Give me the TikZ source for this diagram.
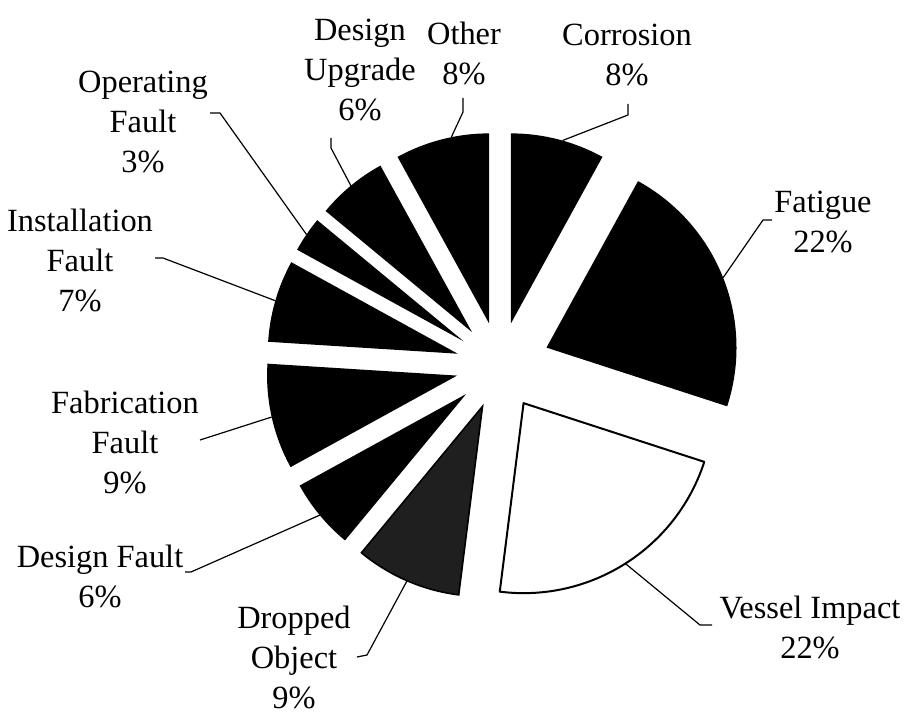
\documentclass[tikz,border=0pt]{standalone}
\usepackage{fontspec}
\setmainfont{Liberation Serif}
\tikzset{
    wedge/.style =  {fill=black,
                    draw=none},
    hollow/.style = {fill=white,
                    draw=black,
                    line width=1pt,
                    line join=round},
    shaded/.style = {fill=black!88,
                    draw=black,
                    line width=0.8pt},
    lbl/.style =    {align=center,
                    inner sep=0pt,
                    text=black,
                    font=\fontsize{16.2}{20}\selectfont},
    leader/.style = {draw=black,
                    line width=0.6pt}}

\begin{document}
\begin{tikzpicture}[x=0.5pt,y=0.5pt]
    \useasboundingbox (0,0) rectangle (906,713);
    \coordinate (C) at (500,347);
    % slices, clockwise from the top
    \path[wedge]  (C) ++(75.6:44)   -- ++(61.2:190)   arc[start angle=61.2,   end angle=90,     radius=190] -- cycle;
    \path[wedge]  (C) ++(21.6:50)   -- ++(-18:190)    arc[start angle=-18,    end angle=61.2,   radius=190] -- cycle;
    \path[hollow] (C) ++(-57.6:44)  -- ++(-97.2:190)  arc[start angle=-97.2,  end angle=-18,    radius=190] -- cycle;
    \path[shaded] (C) ++(-113.4:44) -- ++(-129.6:190) arc[start angle=-129.6, end angle=-97.2,  radius=190] -- cycle;
    \path[wedge]  (C) ++(-140.4:44) -- ++(-151.2:190) arc[start angle=-151.2, end angle=-129.6, radius=190] -- cycle;
    \path[wedge]  (C) ++(192.6:44)  -- ++(176.4:190)  arc[start angle=176.4,  end angle=208.8,  radius=190] -- cycle;
    \path[wedge]  (C) ++(163.8:44)  -- ++(151.2:190)  arc[start angle=151.2,  end angle=176.4,  radius=190] -- cycle;
    \path[wedge]  (C) ++(145.8:44)  -- ++(140.4:190)  arc[start angle=140.4,  end angle=151.2,  radius=190] -- cycle;
    \path[wedge]  (C) ++(129.6:44)  -- ++(118.8:190)  arc[start angle=118.8,  end angle=140.4,  radius=190] -- cycle;
    \path[wedge]  (C) ++(104.4:44)  -- ++(90:190)     arc[start angle=90,     end angle=118.8,  radius=190] -- cycle;
    % labels
    \node[lbl] (corrosion) at (627,658) {Corrosion\\8\%};
    \node[lbl] (fatigue)   at (823,491) {Fatigue\\22\%};
    \node[lbl] (vessel)    at (810,86)  {Vessel Impact\\22\%};
    \node[lbl] (dropped)   at (294,56)  {Dropped\\Object\\9\%};
    \node[lbl] (dfault)    at (100,137) {Design Fault\\6\%};
    \node[lbl] (fabric)    at (125,271) {Fabrication\\Fault\\9\%};
    \node[lbl] (install)   at (80,453)  {Installation\\Fault\\7\%};
    \node[lbl] (operate)   at (143,591) {Operating\\Fault\\3\%};
    \node[lbl] (upgrade)   at (360,643) {Design\\Upgrade\\6\%};
    \node[lbl] (other)     at (464,660) {Other\\8\%};
    % leader lines
    \path (C) ++(74.5:234)   coordinate (corrosion-c)
          (C) ++(21.6:240)   coordinate (fatigue-c)
          (C) ++(-57.6:234)  coordinate (vessel-c)
          (C) ++(-113.4:234) coordinate (dropped-c)
          (C) ++(-140.4:234) coordinate (dfault-c)
          (C) ++(192.6:234)  coordinate (fabric-c)
          (C) ++(163.8:234)  coordinate (install-c)
          (C) ++(145.8:234)  coordinate (operate-c)
          (C) ++(129.6:234)  coordinate (upgrade-c)
          (C) ++(102:234)    coordinate (other-c);
    \coordinate (corrosion-a) at (628,609);  \coordinate (corrosion-b) at (628,598);
    \coordinate (fatigue-a)   at (772,493);  \coordinate (fatigue-b)   at (763,493);
    \coordinate (vessel-a)    at (712,88);   \coordinate (vessel-b)    at (700,88);
    \coordinate (dropped-a)   at (357,56);   \coordinate (dropped-b)   at (367,58);
    \coordinate (dfault-a)    at (185,141);  \coordinate (dfault-b)    at (191,141);
    \coordinate (fabric-a)    at (200,273);
    \coordinate (install-a)   at (155,455);  \coordinate (install-b)   at (163,455);
    \coordinate (operate-a)   at (210,600);  \coordinate (operate-b)   at (220,600);
    \coordinate (upgrade-a)   at (331,575);  \coordinate (upgrade-b)   at (331,565);
    \coordinate (other-a)     at (463,615);  \coordinate (other-b)     at (463,601);
    \draw[leader] (corrosion-a) -- (corrosion-b) -- (corrosion-c);
    \draw[leader] (fatigue-a) -- (fatigue-b) -- (fatigue-c);
    \draw[leader] (vessel-a) -- (vessel-b) -- (vessel-c);
    \draw[leader] (dropped-a) -- (dropped-b) -- (dropped-c);
    \draw[leader] (dfault-a) -- (dfault-b) -- (dfault-c);
    \draw[leader] (fabric-a) -- (fabric-c);
    \draw[leader] (install-a) -- (install-b) -- (install-c);
    \draw[leader] (operate-a) -- (operate-b) -- (operate-c);
    \draw[leader] (upgrade-a) -- (upgrade-b) -- (upgrade-c);
    \draw[leader] (other-a) -- (other-b) -- (other-c);
\end{tikzpicture}
\end{document}
